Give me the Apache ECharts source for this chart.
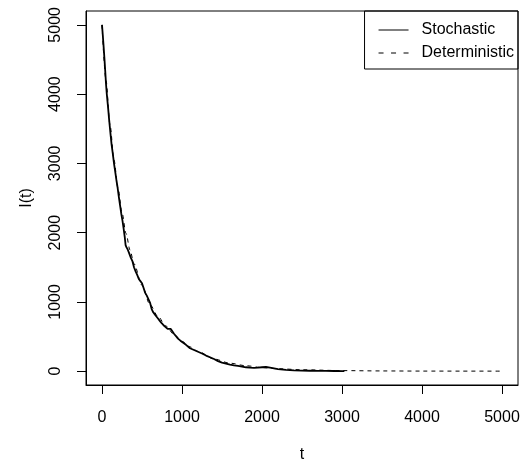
<!DOCTYPE html>
<html>
<head>
<meta charset="utf-8">
<script src="https://cdn.jsdelivr.net/npm/echarts@6/dist/echarts.min.js"></script>
<style>html,body{margin:0;padding:0;background:#fff}#c{width:522px;height:460px}</style>
</head>
<body>
<div id="c"></div>
<script>
// Stochastic trajectory (t, I)
const stochT = [0,10,20,30,40,50,60,75,90,105,120,135,150,165,180,195,210,225,240,255,270,285,295,305,320,340,360,380,400,420,440,460,480,500,520,540,560,580,600,620,640,660,680,700,720,740,760,780,800,820,840,860,880,900,920,950,980,1000,1050,1100,1150,1200,1250,1300,1350,1400,1450,1500,1550,1600,1650,1700,1750,1800,1850,1900,1950,2000,2050,2100,2150,2200,2300,2400,2500,2600,2700,2800,2900,3000,3030];
const stochI = [5000,4850,4690,4520,4340,4150,4000,3820,3620,3440,3270,3140,3000,2880,2760,2650,2520,2400,2280,2180,2060,1930,1820,1790,1760,1700,1640,1590,1500,1440,1390,1330,1300,1270,1200,1130,1090,1040,990,900,850,820,790,760,730,700,680,650,630,610,590,610,600,540,520,470,440,420,380,330,305,280,255,225,200,175,145,122,108,95,84,75,66,56,50,46,50,56,60,50,40,30,18,12,8,6,4,3,2,1,0];
// Deterministic solution (t, I)
const detT = [0,50,100,150,200,250,300,350,400,500,600,700,800,900,1000,1100,1200,1400,1600,1800,2000,2200,2500,3000,3500,4000,4500,5000];
const detI = [5000,4200,3560,3050,2640,2290,1990,1750,1550,1240,960,790,650,530,430,350,285,175,115,78,52,35,20,8,3,1,0.5,0.2];
const xTicks = [0,1000,2000,3000,4000,5000];
const yTicks = [0,1000,2000,3000,4000,5000];
const seriesNames = ['Stochastic','Deterministic'];

const FONT = 'Liberation Sans, Arial, sans-serif';
const SOLID_ICON = 'path://M0,0h30v1h-30z';
const DASH_ICON = 'path://M0,0h5v1h-5z M12.5,0h5v1h-5z M25,0h5v1h-5z';
const chart = echarts.init(document.getElementById('c'), null, {renderer:'canvas'});
chart.setOption({
  animation:false,
  backgroundColor:'#fff',
  grid:{left:86, top:11, right:4, bottom:75, outerBoundsMode:'none', containLabel:false,
        show:true, borderColor:'#000', borderWidth:1, backgroundColor:'transparent'},
  legend:{
    orient:'vertical', right:4, top:11,
    borderColor:'#000', borderWidth:1, borderRadius:0,
    padding:[11,4,8,14], itemGap:7, itemWidth:30, itemHeight:1,
    textStyle:{fontFamily:FONT, fontSize:16, color:'#000', padding:[0,0,0,8]},
    data:[{name:seriesNames[0], icon:SOLID_ICON},{name:seriesNames[1], icon:DASH_ICON}]
  },
  xAxis:{
    type:'value', min:-200, max:5200,
    name:'t', nameLocation:'middle', nameGap:62,
    nameTextStyle:{fontFamily:FONT, fontSize:16, color:'#000'},
    axisLine:{show:true, onZero:false, lineStyle:{color:'#000', width:1}},
    axisTick:{show:true, inside:false, length:9, lineStyle:{color:'#000'}, customValues:xTicks},
    axisLabel:{fontFamily:FONT, fontSize:16, color:'#000', margin:25, customValues:xTicks, formatter:v=>String(v)},
    splitLine:{show:false}
  },
  yAxis:{
    type:'value', min:-200, max:5200,
    name:'I(t)', nameLocation:'middle', nameGap:51, nameRotate:90,
    nameTextStyle:{fontFamily:FONT, fontSize:16, color:'#000'},
    axisLine:{show:true, onZero:false, lineStyle:{color:'#000', width:1}},
    axisTick:{show:true, inside:false, length:9, lineStyle:{color:'#000'}, customValues:yTicks},
    axisLabel:{fontFamily:FONT, fontSize:16, color:'#000', margin:22, rotate:90, customValues:yTicks, formatter:v=>String(v)},
    splitLine:{show:false}
  },
  series:[
    {name:seriesNames[0], type:'line', showSymbol:false, symbol:'none',
     data:stochT.map((t,i)=>[t,stochI[i]]),
     lineStyle:{color:'#000', width:1.8}, itemStyle:{color:'#000'}, z:3},
    {name:seriesNames[1], type:'line', showSymbol:false, symbol:'none', smooth:0.3, smoothMonotone:'x',
     data:detT.map((t,i)=>[t,detI[i]]),
     lineStyle:{color:'#000', width:1, type:[4,4]}, itemStyle:{color:'#000'}, z:2}
  ]
});
</script>
</body>
</html>
